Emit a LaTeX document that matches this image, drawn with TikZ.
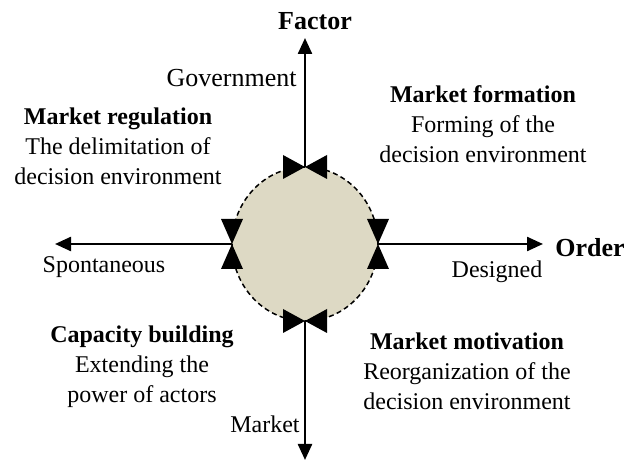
\documentclass[tikz,border=0pt]{standalone}
\usepackage{fontspec}
\setmainfont{Liberation Serif}
\usetikzlibrary{arrows.meta,shapes.geometric}
\definecolor{ringfill}{RGB}{221,217,196}
\begin{document}
\begin{tikzpicture}[x=0.5pt,y=0.5pt,
    axis/.style={line width=1.2pt,-{Triangle[length=8pt,width=7pt]}},
    ring/.style={ellipse,draw=black,fill=ringfill,dash pattern=on 2.5pt off 1.7pt,line width=0.75pt,minimum width=73pt,minimum height=77pt,inner sep=0pt,outer sep=0pt},
    pole/.style={font=\fontsize{13}{15}\selectfont\bfseries,inner sep=0pt},
    tag/.style={font=\fontsize{12}{15}\selectfont,inner sep=0pt},
    quad/.style={font=\fontsize{12}{15}\selectfont,align=center,inner sep=0pt}]
    \useasboundingbox (0,0) rectangle (628,461);
    \node[ring] (ring) at (305,217) {};
    \coordinate (top) at (305,423);
    \coordinate (bottom) at (305,1);
    \coordinate (left) at (55,217);
    \coordinate (right) at (543,217);
    \draw[axis] (ring.north) -- (top);
    \draw[axis] (ring.south) -- (bottom);
    \draw[axis] (ring.west) -- (left);
    \draw[axis] (ring.east) -- (right);
    \foreach \p in {north,south}
      \fill (ring.\p) -- ++(-22,12) -- ++(0,-24) -- cycle
            (ring.\p) -- ++(22,12) -- ++(0,-24) -- cycle;
    \foreach \p in {east,west}
      \fill (ring.\p) -- ++(-11,25) -- ++(22,0) -- cycle
            (ring.\p) -- ++(-11,-25) -- ++(22,0) -- cycle;
    \node[pole,anchor=base] (factor) at (315,431) {Factor};
    \node[pole,anchor=base west] (order) at (555,204) {Order};
    \node[tag,anchor=base east,font=\fontsize{13}{15}\selectfont] (gov) at (297,374) {Government};
    \node[tag,anchor=base east] (market) at (300,28) {Market};
    \node[tag,anchor=base] (spont) at (104,188) {Spontaneous};
    \node[tag,anchor=base] (designed) at (497,183) {Designed};
    \node[quad,anchor=base] (regulation) at (118,276)
      {\textbf{Market regulation}\\The delimitation of\\decision environment};
    \node[quad,anchor=base] (formation) at (483,298)
      {\textbf{Market formation}\\Forming of the\\decision environment};
    \node[quad,anchor=base] (capacity) at (142,58)
      {\textbf{Capacity building}\\Extending the\\power of actors};
    \node[quad,anchor=base] (motivation) at (467,51)
      {\textbf{Market motivation}\\Reorganization of the\\decision environment};
\end{tikzpicture}
\end{document}
